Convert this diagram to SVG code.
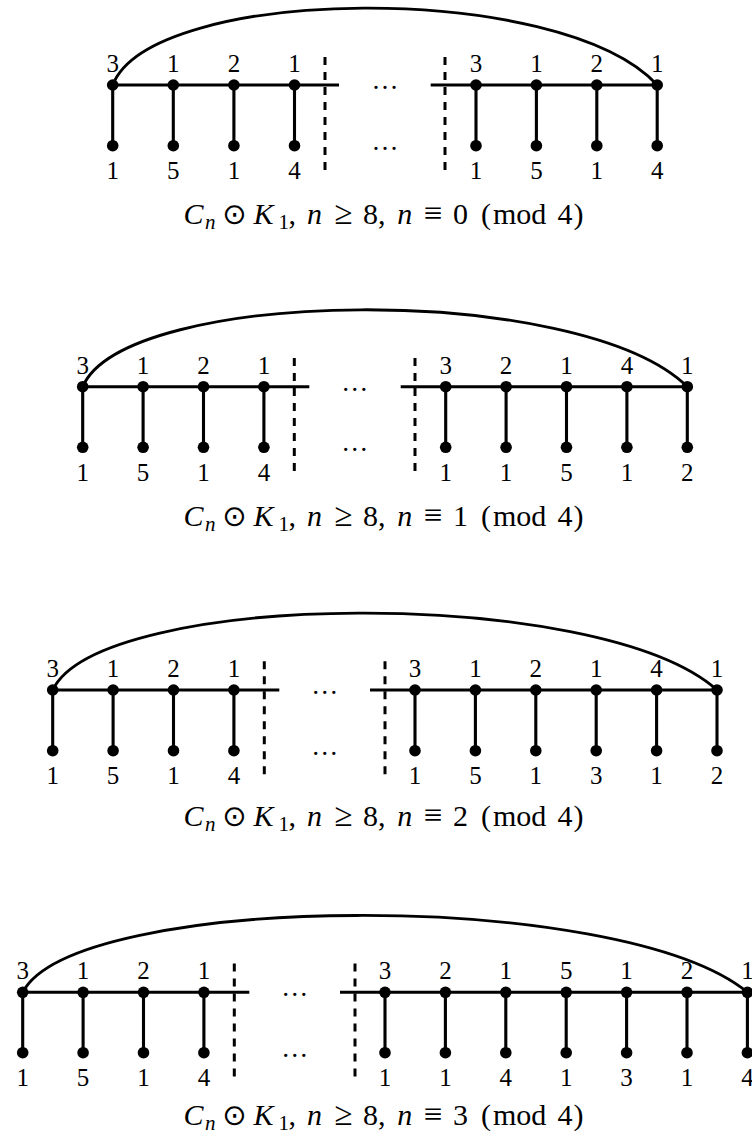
<svg xmlns="http://www.w3.org/2000/svg" width="752" height="1142" viewBox="0 0 752 1142">
<style>
.e{stroke:#000;stroke-width:2.9;fill:none;stroke-linecap:butt}
.p{stroke:#000;stroke-width:3.1;fill:none;stroke-linecap:butt}
.a{stroke:#000;stroke-width:2.9;fill:none}
.d{stroke:#000;stroke-width:3;stroke-dasharray:8 7;fill:none}
.n{fill:#000}
.l{font-family:"Liberation Serif",serif;font-size:25px;text-anchor:middle;fill:#000}
.c text{font-family:"Liberation Serif",serif;font-size:30px;fill:#000}
.c .i{font-style:italic}
.c .s{font-size:21px}
.c .m{text-anchor:middle;font-size:33px}
.c .o{font-family:"DejaVu Sans",sans-serif;font-size:29px;text-anchor:middle}
.dots{font-family:"Liberation Serif",serif;font-size:27px;text-anchor:middle;fill:#000}
</style>
<defs>
<circle id="v" r="5.8" class="n"/>
</defs>

<g id="connectors">
 <!-- panel 1 -->
 <path class="a" d="M112.7 85 C151.4 -15 560.8 -20 657.2 85"/>
 <path class="e" d="M112.7 85 H339 M430.7 85 H657.2"/>
 <path class="p" d="M112.7 85 V145.7 M173.3 85 V145.7 M233.9 85 V145.7 M294.5 85 V145.7 M476 85 V145.7 M536.4 85 V145.7 M596.8 85 V145.7 M657.2 85 V145.7"/>
 <!-- panel 2 -->
 <path class="a" d="M82.7 386.7 C125.7 286.7 580.3 281.7 687.3 386.7"/>
 <path class="e" d="M82.7 386.7 H309.3 M400.7 386.7 H687.3"/>
 <path class="p" d="M82.7 386.7 V447.3 M143.1 386.7 V447.3 M203.5 386.7 V447.3 M263.9 386.7 V447.3 M445.7 386.7 V447.3 M506.1 386.7 V447.3 M566.5 386.7 V447.3 M626.9 386.7 V447.3 M687.3 386.7 V447.3"/>
 <!-- panel 3 -->
 <path class="a" d="M52.7 690 C99.9 590 599.4 585 717 690"/>
 <path class="e" d="M52.7 690 H279.3 M370 690 H717"/>
 <path class="p" d="M52.7 690 V750.7 M113.1 690 V750.7 M173.5 690 V750.7 M233.9 690 V750.7 M415 690 V750.7 M475.4 690 V750.7 M535.8 690 V750.7 M596.2 690 V750.7 M656.6 690 V750.7 M717 690 V750.7"/>
 <!-- panel 4 -->
 <path class="a" d="M22.7 992.3 C74.2 892.3 619.1 887.3 747.4 992.3"/>
 <path class="e" d="M22.7 992.3 H249.3 M340 992.3 H747.4"/>
 <path class="p" d="M22.7 992.3 V1052.7 M83.1 992.3 V1052.7 M143.5 992.3 V1052.7 M203.9 992.3 V1052.7 M385 992.3 V1052.7 M445.4 992.3 V1052.7 M505.8 992.3 V1052.7 M566.2 992.3 V1052.7 M626.6 992.3 V1052.7 M687 992.3 V1052.7 M747.4 992.3 V1052.7"/>
</g>

<g id="separators">
 <path class="d" d="M325 57 V173 M445 57 V173"/>
 <text class="dots" x="385" y="89">…</text>
 <text class="dots" x="385" y="149.7">…</text>
 <path class="d" d="M294.3 358 V476.7 M415 358 V476.7"/>
 <text class="dots" x="354.7" y="390.7">…</text>
 <text class="dots" x="354.7" y="451.3">…</text>
 <path class="d" d="M264.3 661.3 V780 M385 661.3 V780"/>
 <text class="dots" x="324.7" y="694">…</text>
 <text class="dots" x="324.7" y="754.7">…</text>
 <path class="d" d="M234.3 963.6 V1082.3 M355 963.6 V1082.3"/>
 <text class="dots" x="294.7" y="996.3">…</text>
 <text class="dots" x="294.7" y="1056.7">…</text>
</g>

<g id="p1">
 <g id="p1-c1"><use href="#v" x="112.7" y="85"/><text class="l" x="112.7" y="72">3</text></g>
 <g id="p1-c2"><use href="#v" x="173.3" y="85"/><text class="l" x="173.3" y="72">1</text></g>
 <g id="p1-c3"><use href="#v" x="233.9" y="85"/><text class="l" x="233.9" y="72">2</text></g>
 <g id="p1-c4"><use href="#v" x="294.5" y="85"/><text class="l" x="294.5" y="72">1</text></g>
 <g id="p1-c5"><use href="#v" x="476" y="85"/><text class="l" x="476" y="72">3</text></g>
 <g id="p1-c6"><use href="#v" x="536.4" y="85"/><text class="l" x="536.4" y="72">1</text></g>
 <g id="p1-c7"><use href="#v" x="596.8" y="85"/><text class="l" x="596.8" y="72">2</text></g>
 <g id="p1-c8"><use href="#v" x="657.2" y="85"/><text class="l" x="657.2" y="72">1</text></g>
 <g id="p1-p1"><use href="#v" x="112.7" y="145.7"/><text class="l" x="112.7" y="179">1</text></g>
 <g id="p1-p2"><use href="#v" x="173.3" y="145.7"/><text class="l" x="173.3" y="179">5</text></g>
 <g id="p1-p3"><use href="#v" x="233.9" y="145.7"/><text class="l" x="233.9" y="179">1</text></g>
 <g id="p1-p4"><use href="#v" x="294.5" y="145.7"/><text class="l" x="294.5" y="179">4</text></g>
 <g id="p1-p5"><use href="#v" x="476" y="145.7"/><text class="l" x="476" y="179">1</text></g>
 <g id="p1-p6"><use href="#v" x="536.4" y="145.7"/><text class="l" x="536.4" y="179">5</text></g>
 <g id="p1-p7"><use href="#v" x="596.8" y="145.7"/><text class="l" x="596.8" y="179">1</text></g>
 <g id="p1-p8"><use href="#v" x="657.2" y="145.7"/><text class="l" x="657.2" y="179">4</text></g>
</g>

<g id="p2">
 <g id="p2-c1"><use href="#v" x="82.7" y="386.7"/><text class="l" x="82.7" y="373.7">3</text></g>
 <g id="p2-c2"><use href="#v" x="143.1" y="386.7"/><text class="l" x="143.1" y="373.7">1</text></g>
 <g id="p2-c3"><use href="#v" x="203.5" y="386.7"/><text class="l" x="203.5" y="373.7">2</text></g>
 <g id="p2-c4"><use href="#v" x="263.9" y="386.7"/><text class="l" x="263.9" y="373.7">1</text></g>
 <g id="p2-c5"><use href="#v" x="445.7" y="386.7"/><text class="l" x="445.7" y="373.7">3</text></g>
 <g id="p2-c6"><use href="#v" x="506.1" y="386.7"/><text class="l" x="506.1" y="373.7">2</text></g>
 <g id="p2-c7"><use href="#v" x="566.5" y="386.7"/><text class="l" x="566.5" y="373.7">1</text></g>
 <g id="p2-c8"><use href="#v" x="626.9" y="386.7"/><text class="l" x="626.9" y="373.7">4</text></g>
 <g id="p2-c9"><use href="#v" x="687.3" y="386.7"/><text class="l" x="687.3" y="373.7">1</text></g>
 <g id="p2-p1"><use href="#v" x="82.7" y="447.3"/><text class="l" x="82.7" y="480.6">1</text></g>
 <g id="p2-p2"><use href="#v" x="143.1" y="447.3"/><text class="l" x="143.1" y="480.6">5</text></g>
 <g id="p2-p3"><use href="#v" x="203.5" y="447.3"/><text class="l" x="203.5" y="480.6">1</text></g>
 <g id="p2-p4"><use href="#v" x="263.9" y="447.3"/><text class="l" x="263.9" y="480.6">4</text></g>
 <g id="p2-p5"><use href="#v" x="445.7" y="447.3"/><text class="l" x="445.7" y="480.6">1</text></g>
 <g id="p2-p6"><use href="#v" x="506.1" y="447.3"/><text class="l" x="506.1" y="480.6">1</text></g>
 <g id="p2-p7"><use href="#v" x="566.5" y="447.3"/><text class="l" x="566.5" y="480.6">5</text></g>
 <g id="p2-p8"><use href="#v" x="626.9" y="447.3"/><text class="l" x="626.9" y="480.6">1</text></g>
 <g id="p2-p9"><use href="#v" x="687.3" y="447.3"/><text class="l" x="687.3" y="480.6">2</text></g>
</g>

<g id="p3">
 <g id="p3-c1"><use href="#v" x="52.7" y="690"/><text class="l" x="52.7" y="677">3</text></g>
 <g id="p3-c2"><use href="#v" x="113.1" y="690"/><text class="l" x="113.1" y="677">1</text></g>
 <g id="p3-c3"><use href="#v" x="173.5" y="690"/><text class="l" x="173.5" y="677">2</text></g>
 <g id="p3-c4"><use href="#v" x="233.9" y="690"/><text class="l" x="233.9" y="677">1</text></g>
 <g id="p3-c5"><use href="#v" x="415" y="690"/><text class="l" x="415" y="677">3</text></g>
 <g id="p3-c6"><use href="#v" x="475.4" y="690"/><text class="l" x="475.4" y="677">1</text></g>
 <g id="p3-c7"><use href="#v" x="535.8" y="690"/><text class="l" x="535.8" y="677">2</text></g>
 <g id="p3-c8"><use href="#v" x="596.2" y="690"/><text class="l" x="596.2" y="677">1</text></g>
 <g id="p3-c9"><use href="#v" x="656.6" y="690"/><text class="l" x="656.6" y="677">4</text></g>
 <g id="p3-c10"><use href="#v" x="717" y="690"/><text class="l" x="717" y="677">1</text></g>
 <g id="p3-p1"><use href="#v" x="52.7" y="750.7"/><text class="l" x="52.7" y="784">1</text></g>
 <g id="p3-p2"><use href="#v" x="113.1" y="750.7"/><text class="l" x="113.1" y="784">5</text></g>
 <g id="p3-p3"><use href="#v" x="173.5" y="750.7"/><text class="l" x="173.5" y="784">1</text></g>
 <g id="p3-p4"><use href="#v" x="233.9" y="750.7"/><text class="l" x="233.9" y="784">4</text></g>
 <g id="p3-p5"><use href="#v" x="415" y="750.7"/><text class="l" x="415" y="784">1</text></g>
 <g id="p3-p6"><use href="#v" x="475.4" y="750.7"/><text class="l" x="475.4" y="784">5</text></g>
 <g id="p3-p7"><use href="#v" x="535.8" y="750.7"/><text class="l" x="535.8" y="784">1</text></g>
 <g id="p3-p8"><use href="#v" x="596.2" y="750.7"/><text class="l" x="596.2" y="784">3</text></g>
 <g id="p3-p9"><use href="#v" x="656.6" y="750.7"/><text class="l" x="656.6" y="784">1</text></g>
 <g id="p3-p10"><use href="#v" x="717" y="750.7"/><text class="l" x="717" y="784">2</text></g>
</g>

<g id="p4">
 <g id="p4-c1"><use href="#v" x="22.7" y="992.3"/><text class="l" x="22.7" y="979.3">3</text></g>
 <g id="p4-c2"><use href="#v" x="83.1" y="992.3"/><text class="l" x="83.1" y="979.3">1</text></g>
 <g id="p4-c3"><use href="#v" x="143.5" y="992.3"/><text class="l" x="143.5" y="979.3">2</text></g>
 <g id="p4-c4"><use href="#v" x="203.9" y="992.3"/><text class="l" x="203.9" y="979.3">1</text></g>
 <g id="p4-c5"><use href="#v" x="385" y="992.3"/><text class="l" x="385" y="979.3">3</text></g>
 <g id="p4-c6"><use href="#v" x="445.4" y="992.3"/><text class="l" x="445.4" y="979.3">2</text></g>
 <g id="p4-c7"><use href="#v" x="505.8" y="992.3"/><text class="l" x="505.8" y="979.3">1</text></g>
 <g id="p4-c8"><use href="#v" x="566.2" y="992.3"/><text class="l" x="566.2" y="979.3">5</text></g>
 <g id="p4-c9"><use href="#v" x="626.6" y="992.3"/><text class="l" x="626.6" y="979.3">1</text></g>
 <g id="p4-c10"><use href="#v" x="687" y="992.3"/><text class="l" x="687" y="979.3">2</text></g>
 <g id="p4-c11"><use href="#v" x="747.4" y="992.3"/><text class="l" x="747.4" y="979.3">1</text></g>
 <g id="p4-p1"><use href="#v" x="22.7" y="1052.7"/><text class="l" x="22.7" y="1086">1</text></g>
 <g id="p4-p2"><use href="#v" x="83.1" y="1052.7"/><text class="l" x="83.1" y="1086">5</text></g>
 <g id="p4-p3"><use href="#v" x="143.5" y="1052.7"/><text class="l" x="143.5" y="1086">1</text></g>
 <g id="p4-p4"><use href="#v" x="203.9" y="1052.7"/><text class="l" x="203.9" y="1086">4</text></g>
 <g id="p4-p5"><use href="#v" x="385" y="1052.7"/><text class="l" x="385" y="1086">1</text></g>
 <g id="p4-p6"><use href="#v" x="445.4" y="1052.7"/><text class="l" x="445.4" y="1086">1</text></g>
 <g id="p4-p7"><use href="#v" x="505.8" y="1052.7"/><text class="l" x="505.8" y="1086">4</text></g>
 <g id="p4-p8"><use href="#v" x="566.2" y="1052.7"/><text class="l" x="566.2" y="1086">1</text></g>
 <g id="p4-p9"><use href="#v" x="626.6" y="1052.7"/><text class="l" x="626.6" y="1086">3</text></g>
 <g id="p4-p10"><use href="#v" x="687" y="1052.7"/><text class="l" x="687" y="1086">1</text></g>
 <g id="p4-p11"><use href="#v" x="747.4" y="1052.7"/><text class="l" x="747.4" y="1086">4</text></g>
</g>

<g id="caption1" class="c">
 <text x="183.5" y="224" class="i">C</text><text x="205" y="228.5" class="i s">n</text>
 <text x="234.5" y="224" class="o">⊙</text>
 <text x="253.5" y="224" class="i">K</text><text x="278.5" y="228.5" class="s">1</text><text x="288.5" y="224">,</text>
 <text x="307" y="224" class="i">n</text><text x="343.3" y="224" class="m">≥</text><text x="363" y="224">8</text><text x="378" y="224">,</text>
 <text x="397.3" y="224" class="i">n</text><text x="433" y="224" class="m">≡</text><text x="453" y="224">0</text>
 <text x="481" y="224">(</text><text x="493" y="224">mod</text><text x="557.5" y="224">4</text><text x="573.5" y="224">)</text>
</g>
<g id="caption2" class="c">
 <text x="183.5" y="526" class="i">C</text><text x="205" y="530.5" class="i s">n</text>
 <text x="234.5" y="526" class="o">⊙</text>
 <text x="253.5" y="526" class="i">K</text><text x="278.5" y="530.5" class="s">1</text><text x="288.5" y="526">,</text>
 <text x="307" y="526" class="i">n</text><text x="343.3" y="526" class="m">≥</text><text x="363" y="526">8</text><text x="378" y="526">,</text>
 <text x="397.3" y="526" class="i">n</text><text x="433" y="526" class="m">≡</text><text x="453" y="526">1</text>
 <text x="481" y="526">(</text><text x="493" y="526">mod</text><text x="557.5" y="526">4</text><text x="573.5" y="526">)</text>
</g>
<g id="caption3" class="c">
 <text x="183.5" y="826" class="i">C</text><text x="205" y="830.5" class="i s">n</text>
 <text x="234.5" y="826" class="o">⊙</text>
 <text x="253.5" y="826" class="i">K</text><text x="278.5" y="830.5" class="s">1</text><text x="288.5" y="826">,</text>
 <text x="307" y="826" class="i">n</text><text x="343.3" y="826" class="m">≥</text><text x="363" y="826">8</text><text x="378" y="826">,</text>
 <text x="397.3" y="826" class="i">n</text><text x="433" y="826" class="m">≡</text><text x="453" y="826">2</text>
 <text x="481" y="826">(</text><text x="493" y="826">mod</text><text x="557.5" y="826">4</text><text x="573.5" y="826">)</text>
</g>
<g id="caption4" class="c">
 <text x="183.5" y="1125" class="i">C</text><text x="205" y="1129.5" class="i s">n</text>
 <text x="234.5" y="1125" class="o">⊙</text>
 <text x="253.5" y="1125" class="i">K</text><text x="278.5" y="1129.5" class="s">1</text><text x="288.5" y="1125">,</text>
 <text x="307" y="1125" class="i">n</text><text x="343.3" y="1125" class="m">≥</text><text x="363" y="1125">8</text><text x="378" y="1125">,</text>
 <text x="397.3" y="1125" class="i">n</text><text x="433" y="1125" class="m">≡</text><text x="453" y="1125">3</text>
 <text x="481" y="1125">(</text><text x="493" y="1125">mod</text><text x="557.5" y="1125">4</text><text x="573.5" y="1125">)</text>
</g>
</svg>
